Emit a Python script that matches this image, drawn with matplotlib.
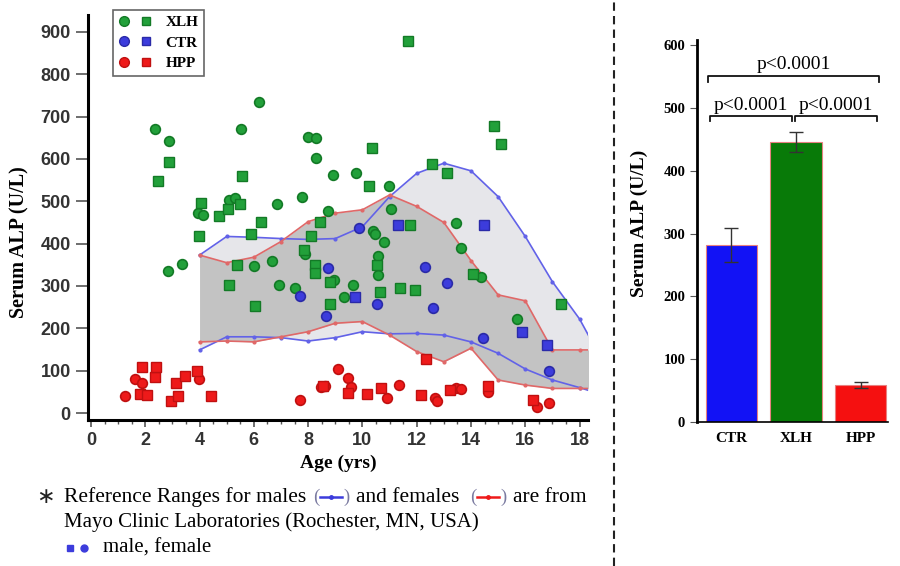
import matplotlib
matplotlib.use("Agg")
import matplotlib.pyplot as plt
from matplotlib.lines import Line2D
from matplotlib.legend_handler import HandlerTuple

plt.rcParams['font.family'] = ['Liberation Serif', 'DejaVu Serif']

# scatter data: age (yrs) and serum ALP (U/L)
xlh_f_age = [2.37, 2.86, 2.83, 3.36, 3.94, 4.14, 5.1, 5.3, 5.54, 6.18, 6.0, 6.68, 6.84, 6.93, 7.52, 7.78, 7.87, 8.0, 8.3, 8.29,
             8.73, 8.91, 8.97, 9.66, 9.32, 9.75, 10.4, 10.46, 10.8, 10.58, 10.58, 10.98, 11.07, 13.45, 13.64, 14.37, 15.7]
xlh_f_alp = [670, 643, 336, 351, 472, 468, 503, 508, 670, 735, 347, 360, 494, 302, 295, 511, 375, 652, 650, 602,
             476, 562, 314, 302, 274, 566, 430, 422, 405, 370, 326, 536, 481, 448, 389, 322, 222]
xlh_m_age = [2.47, 2.87, 3.97, 4.05, 4.72, 5.05, 5.48, 5.56, 5.9, 6.27, 5.39, 5.08, 6.05, 7.84, 8.1, 8.43, 8.25, 8.27, 8.82, 8.82,
             10.37, 10.26, 10.52, 10.63, 11.37, 11.95, 11.74, 11.68, 12.57, 13.12, 14.07, 14.83, 15.1, 17.3]
xlh_m_alp = [549, 594, 417, 495, 466, 483, 494, 560, 423, 452, 350, 303, 253, 385, 418, 452, 350, 330, 310, 258,
             626, 535, 350, 286, 296, 291, 444, 879, 587, 567, 328, 679, 636, 257]
ctr_f_age = [7.71, 8.64, 8.73, 9.88, 10.55, 12.31, 12.6, 13.12, 14.46, 16.86]
ctr_f_alp = [276, 228, 342, 436, 258, 346, 247, 306, 176, 100]
ctr_m_age = [9.72, 11.3, 14.47, 15.87, 16.81]
ctr_m_alp = [274, 444, 444, 191, 161]
hpp_f_age = [1.24, 1.61, 1.89, 3.99, 7.71, 8.48, 8.63, 9.1, 9.47, 9.59, 10.91, 11.33, 12.66, 12.75, 13.46, 13.62, 14.62, 16.44, 16.87]
hpp_f_alp = [40, 80, 70, 81, 31, 61, 64, 104, 82, 62, 35, 66, 35, 29, 58, 56, 50, 15, 23]
hpp_m_age = [1.79, 1.89, 2.08, 2.37, 2.39, 2.96, 3.15, 3.21, 3.45, 3.92, 4.43, 8.55, 9.47, 10.18, 10.69, 12.14, 12.35, 13.21, 14.62, 16.28]
hpp_m_alp = [44, 109, 43, 85, 109, 29, 70, 40, 87, 100, 40, 63, 47, 44, 60, 43, 128, 54, 64, 31]

# Mayo reference ranges
ref_age = [4, 5, 6, 7, 8, 9, 10, 11, 12, 13, 14, 15, 16, 17, 18, 18.5]
male_hi = [373, 417, 415, 412, 410, 412, 440, 511, 566, 590, 572, 511, 417, 310, 222, 163]
male_lo = [149, 180, 180, 178, 170, 178, 192, 187, 188, 184, 168, 141, 104, 78, 60, 50]
fem_hi = [373, 355, 368, 405, 452, 472, 480, 515, 488, 450, 360, 279, 265, 149, 149, 149]
fem_lo = [168, 170, 168, 180, 192, 212, 216, 184, 145, 121, 153, 78, 66, 58, 58, 58]

# bar panel
groups = ["CTR", "XLH", "HPP"]
means = [282, 446, 59]
errs = [27, 16, 5]
bar_colors = ["#1212f5", "#087a08", "#f51010"]

GREEN, BLUE, RED = "#22a03a", "#3c3cdc", "#ee1a1a"
EDGE = {GREEN: "#137a26", BLUE: "#2a2aa8", RED: "#c01010"}

W, H = 900, 566
fig = plt.figure(figsize=(W / 100, H / 100), dpi=100)


def fx(px):
    return px / W


def fy(py):
    return 1 - py / H


ax = fig.add_axes([fx(88), fy(420), fx(500), (420 - 15) / H])
ax.fill_between(ref_age, male_lo, male_hi, color="#e6e6ea", lw=0, zorder=1)
ax.fill_between(ref_age, fem_lo, fem_hi, color="#c3c3c3", lw=0, zorder=1.1)
for lo, hi, c in [(male_lo, male_hi, "#6262e8"), (fem_lo, fem_hi, "#e06868")]:
    ax.plot(ref_age, hi, color=c, lw=1.2, marker="o", ms=2, zorder=2)
    ax.plot(ref_age, lo, color=c, lw=1.2, marker="o", ms=2, zorder=2)

for a, v, c in [(xlh_f_age, xlh_f_alp, GREEN), (ctr_f_age, ctr_f_alp, BLUE), (hpp_f_age, hpp_f_alp, RED)]:
    ax.plot(a, v, "o", ms=7, color=c, mec=EDGE[c], mew=1.2, zorder=3)
for a, v, c in [(xlh_m_age, xlh_m_alp, GREEN), (ctr_m_age, ctr_m_alp, BLUE), (hpp_m_age, hpp_m_alp, RED)]:
    ax.plot(a, v, "s", ms=6.5, color=c, mec=EDGE[c], mew=1.0, zorder=3)

ax.set_xlim(-0.11, 18.31)
ax.set_ylim(-16.5, 940)
ax.set_xticks(range(0, 19, 2))
ax.set_xticks([i * 0.5 for i in range(37)], minor=True)
ax.set_yticks(range(0, 901, 100))
for s in ["top", "right"]:
    ax.spines[s].set_visible(False)
for s in ["left", "bottom"]:
    ax.spines[s].set_linewidth(2.2)
ax.tick_params(axis="y", length=9, width=1.2, color="#555")
ax.tick_params(axis="x", which="major", length=5, width=1.2, color="#555")
ax.tick_params(axis="x", which="minor", length=3, width=1, color="#555")
for lbl in ax.get_xticklabels() + ax.get_yticklabels():
    lbl.set_fontfamily("Liberation Sans")
    lbl.set_fontweight("bold")
    lbl.set_fontsize(13)
    lbl.set_color("#333333")
ax.set_xlabel("Age (yrs)", fontsize=14, fontweight="bold", labelpad=4)
ax.set_ylabel("Serum ALP (U/L)", fontsize=14.5, fontweight="bold")
ax.yaxis.set_label_coords(-0.118, 0.44)

handles = []
for c in [GREEN, BLUE, RED]:
    h1 = Line2D([], [], ls="", marker="o", ms=7, color=c, mec=EDGE[c])
    h2 = Line2D([], [], ls="", marker="s", ms=6, color=c, mec=EDGE[c])
    handles.append((h1, h2))
leg = ax.legend(handles, ["XLH", "CTR", "HPP"], handler_map={tuple: HandlerTuple(ndivide=None, pad=0.6)},
                loc="upper left", bbox_to_anchor=(fx(113), fy(10)), bbox_transform=fig.transFigure,
                borderaxespad=0, fancybox=False, edgecolor="#666", framealpha=1, handlelength=2.2,
                handletextpad=0.9, labelspacing=0.45, borderpad=0.35, prop={"weight": "bold", "size": 11})
leg.get_frame().set_linewidth(1.2)

# bar panel
ax2 = fig.add_axes([fx(697), fy(422), fx(191), (422 - 40) / H])
xs = range(len(groups))
ax2.bar(xs, means, width=0.79, color=bar_colors, edgecolor="#e88080", lw=0.8,
        yerr=errs, error_kw=dict(ecolor="#333", elinewidth=1, capsize=5, capthick=1))
ax2.set_xlim(-0.53, 2.42)
ax2.set_ylim(0, 608)
ax2.set_yticks(range(0, 601, 100))
ax2.set_xticks(list(xs))
ax2.set_xticklabels(groups, fontsize=11, fontweight="bold")
for lbl in ax2.get_yticklabels():
    lbl.set_fontsize(10.5)
    lbl.set_fontweight("bold")
for s in ["top", "right"]:
    ax2.spines[s].set_visible(False)
ax2.spines["left"].set_linewidth(2)
ax2.spines["bottom"].set_linewidth(1.2)
ax2.tick_params(axis="x", length=0, pad=7)
ax2.tick_params(axis="y", length=5, color="#555")
ax2.set_ylabel("Serum ALP (U/L)", fontsize=14, fontweight="bold")
ax2.yaxis.set_label_coords(-0.255, 0.52)

brackets = [(-0.36, 2.28, 551, 10), (-0.33, 0.93, 487, 8), (0.99, 2.25, 487, 8)]
for x0, x1, y, d in brackets:
    ax2.plot([x0, x0, x1, x1], [y - d, y, y, y - d], color="#111", lw=1.3, clip_on=False)
    ax2.text((x0 + x1) / 2, y + 4, "p<0.0001", ha="center", va="bottom", fontsize=14)

# dashed separator
fig.add_artist(Line2D([fx(614)] * 2, [0, 1], transform=fig.transFigure, color="#222", lw=1.5, ls=(0, (4, 2.5))))

# footnote
fs = 15.5
y1, y2, y3 = fy(497), fy(522), fy(548)
fig.text(fx(36), y1, "\u2217", fontsize=16, va="center", family=["DejaVu Sans"], color="#222")
fig.text(fx(64), y1, "Reference Ranges for males", fontsize=fs, va="center")
fig.text(fx(313), y1, "(", fontsize=fs - 2, va="center", color="#7a7aa0")
fig.add_artist(Line2D([fx(320), fx(331), fx(342)], [y1] * 3, transform=fig.transFigure,
                      color=BLUE, lw=1.8, marker="o", ms=2.5, markevery=[1]))
fig.text(fx(343), y1, ")", fontsize=fs - 2, va="center", color="#7a7aa0")
fig.text(fx(356), y1, "and females", fontsize=fs, va="center")
fig.text(fx(470), y1, "(", fontsize=fs - 2, va="center", color="#7a7aa0")
fig.add_artist(Line2D([fx(477), fx(488), fx(499)], [y1] * 3, transform=fig.transFigure,
                      color=RED, lw=1.8, marker="o", ms=2.5, markevery=[1]))
fig.text(fx(500), y1, ")", fontsize=fs - 2, va="center", color="#7a7aa0")
fig.text(fx(513), y1, "are from", fontsize=fs, va="center")
fig.text(fx(64), y2, "Mayo Clinic Laboratories (Rochester, MN, USA)", fontsize=15, va="center")
fig.add_artist(Line2D([fx(70)], [y3], transform=fig.transFigure, ls="", marker="s", ms=5, color=BLUE))
fig.add_artist(Line2D([fx(84)], [y3], transform=fig.transFigure, ls="", marker="o", ms=5, color=BLUE))
fig.text(fx(103), y3, "male, female", fontsize=15, va="center")

fig.savefig("out.png", dpi=100)
